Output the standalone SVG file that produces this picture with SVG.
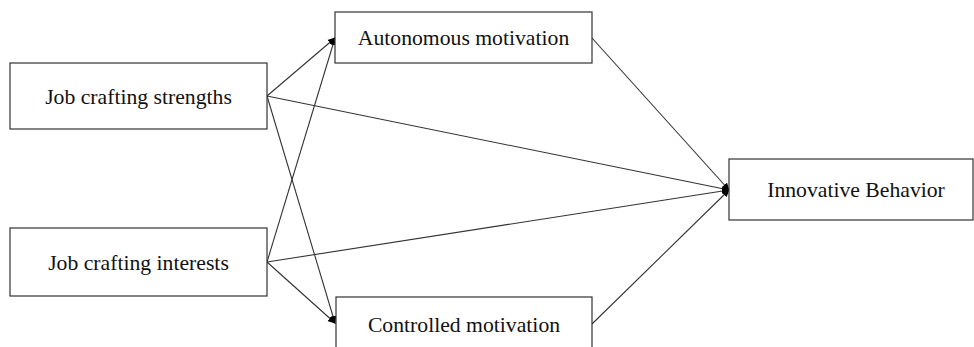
<svg xmlns="http://www.w3.org/2000/svg" width="974" height="347" viewBox="0 0 974 347">
<style>
.box{fill:#fff;stroke:#333;stroke-width:1.2}
.lbl{font-family:"Liberation Serif","Times New Roman",serif;font-size:21.7px;fill:#111;text-anchor:middle}
.edge{stroke:#333;stroke-width:1.1;fill:none;marker-end:url(#ah)}
</style>
<defs>
<marker id="ah" markerWidth="8" markerHeight="8" refX="7" refY="4" orient="auto" markerUnits="userSpaceOnUse">
<path d="M0,0.5 L8,4 L0,7.5 Z" fill="#000"/>
</marker>
</defs>
<rect width="974" height="347" fill="#fff"/>
<g id="edges">
<line class="edge" x1="267" y1="96" x2="335" y2="38"/>
<line class="edge" x1="267" y1="262" x2="335" y2="38"/>
<line class="edge" x1="267" y1="96" x2="335" y2="323"/>
<line class="edge" x1="267" y1="262" x2="335" y2="323"/>
<line class="edge" x1="267" y1="96" x2="729" y2="190"/>
<line class="edge" x1="267" y1="262" x2="729" y2="190"/>
<line class="edge" x1="592" y1="38" x2="729" y2="190"/>
<line class="edge" x1="592" y1="324" x2="729" y2="190"/>
</g>
<g id="strengths">
<rect class="box" x="10" y="63" width="257" height="66"/>
<text class="lbl" x="138.5" y="104">Job crafting strengths</text>
</g>
<g id="interests">
<rect class="box" x="10" y="228" width="257" height="68"/>
<text class="lbl" x="138.5" y="270">Job crafting interests</text>
</g>
<g id="autonomous">
<rect class="box" x="335" y="12" width="257" height="51"/>
<text class="lbl" x="463.5" y="45">Autonomous motivation</text>
</g>
<g id="controlled">
<rect class="box" x="336" y="297" width="256" height="56"/>
<text class="lbl" x="464" y="332">Controlled motivation</text>
</g>
<g id="innovative">
<rect class="box" x="729" y="159" width="244" height="61"/>
<text class="lbl" x="856" y="197">Innovative Behavior</text>
</g>
</svg>
